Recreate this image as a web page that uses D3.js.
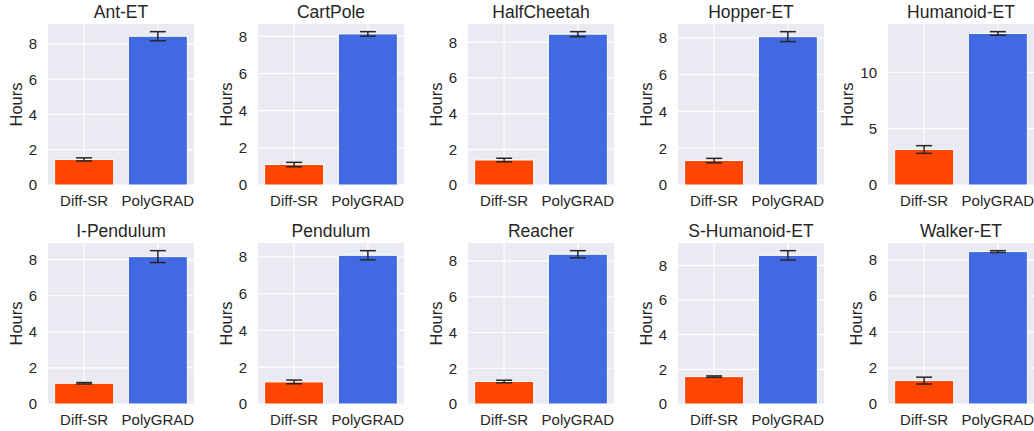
<!DOCTYPE html>
<html>
<head>
<meta charset="utf-8">
<script src="https://cdn.jsdelivr.net/npm/d3@7"></script>
<style>
  body { margin: 0; background: #fff; }
  svg { font-family: "Liberation Sans", Arial, sans-serif; }
</style>
</head>
<body>
<div id="chart"></div>
<script>
// environments and methods
const envs = ["Ant-ET", "CartPole", "HalfCheetah", "Hopper-ET", "Humanoid-ET",
              "I-Pendulum", "Pendulum", "Reacher", "S-Humanoid-ET", "Walker-ET"];
const methods = ["Diff-SR", "PolyGRAD"];
const methodColors = ["#FF4500", "#4169E1"];

// hours (mean and error) per environment
const diffMean = [1.45, 1.10, 1.40, 1.33, 3.15, 1.15, 1.20, 1.26, 1.58, 1.30];
const diffErr  = [0.09, 0.12, 0.10, 0.12, 0.34, 0.04, 0.10, 0.07, 0.04, 0.19];
const polyMean = [8.43, 8.13, 8.45, 8.07, 13.44, 8.17, 8.08, 8.38, 8.58, 8.47];
const polyErr  = [0.26, 0.12, 0.14, 0.27, 0.16, 0.33, 0.25, 0.20, 0.27, 0.05];

const W = 1034, H = 431;
const nCols = 5;
const panelW = 146, panelH = 161;
const colStep = 210, left0 = 48;
const rowTops = [24, 243];
const textColor = "#262626";

const svg = d3.select("#chart").append("svg")
  .attr("width", W).attr("height", H);

envs.forEach((env, i) => {
  const col = i % nCols, row = Math.floor(i / nCols);
  const g = svg.append("g")
    .attr("transform", `translate(${left0 + col * colStep},${rowTops[row]})`);

  const bars = [
    { m: methods[0], mean: diffMean[i], err: diffErr[i], c: methodColors[0] },
    { m: methods[1], mean: polyMean[i], err: polyErr[i], c: methodColors[1] }
  ];
  const top = d3.max(bars, d => d.mean + d.err) * 1.05;

  const x = d3.scaleLinear().domain([-0.49, 1.49]).range([0, panelW]);
  const y = d3.scaleLinear().domain([0, top]).range([panelH, 0]);
  const yTicks = y.ticks(3);

  // background
  g.append("rect").attr("width", panelW).attr("height", panelH).attr("fill", "#EAEAF2");

  // grid
  g.selectAll("line.hg").data(yTicks).join("line")
    .attr("x1", 0).attr("x2", panelW)
    .attr("y1", d => y(d)).attr("y2", d => y(d))
    .attr("stroke", "#fff").attr("stroke-width", 1.2);
  g.selectAll("line.vg").data([0, 1]).join("line")
    .attr("x1", d => x(d)).attr("x2", d => x(d))
    .attr("y1", 0).attr("y2", panelH)
    .attr("stroke", "#fff").attr("stroke-width", 1.2);

  // bars
  g.selectAll("rect.bar").data(bars).join("rect")
    .attr("class", "bar")
    .attr("x", (d, j) => x(j - 0.4))
    .attr("width", x(0.8) - x(0))
    .attr("y", d => y(d.mean))
    .attr("height", d => y(0) - y(d.mean))
    .attr("fill", d => d.c)
    .attr("stroke", "#fff").attr("stroke-width", 1);

  // error bars
  const eb = g.selectAll("g.eb").data(bars).join("g");
  eb.append("line")
    .attr("x1", (d, j) => x(j)).attr("x2", (d, j) => x(j))
    .attr("y1", d => y(d.mean - d.err)).attr("y2", d => y(d.mean + d.err));
  eb.append("line")
    .attr("x1", (d, j) => x(j) - 8).attr("x2", (d, j) => x(j) + 8)
    .attr("y1", d => y(d.mean + d.err)).attr("y2", d => y(d.mean + d.err));
  eb.append("line")
    .attr("x1", (d, j) => x(j) - 8).attr("x2", (d, j) => x(j) + 8)
    .attr("y1", d => y(d.mean - d.err)).attr("y2", d => y(d.mean - d.err));
  eb.selectAll("line").attr("stroke", "#262626").attr("stroke-width", 1.5);

  // y tick labels
  const yt = g.selectAll("text.yt").data(yTicks).join("text")
    .attr("x", -11).attr("y", d => y(d))
    .attr("dy", "0.36em")
    .attr("text-anchor", "end")
    .attr("font-size", 15).attr("fill", textColor)
    .text(d => d3.format("d")(d));
  let tw = 0;
  yt.each(function () { tw = Math.max(tw, this.getBBox().width); });

  // x tick labels
  g.selectAll("text.xt").data(methods).join("text")
    .attr("x", (d, j) => x(j)).attr("y", panelH + 21)
    .attr("text-anchor", "middle")
    .attr("font-size", 15).attr("fill", textColor)
    .text(d => d);

  // y label
  g.append("text")
    .attr("transform", `translate(${-11 - tw - 7},${panelH / 2}) rotate(-90)`)
    .attr("text-anchor", "middle")
    .attr("font-size", 16.5).attr("fill", textColor)
    .text("Hours");

  // title
  g.append("text")
    .attr("x", panelW / 2).attr("y", -6)
    .attr("text-anchor", "middle")
    .attr("font-size", 17.5).attr("fill", textColor)
    .text(env);
});
</script>
</body>
</html>
